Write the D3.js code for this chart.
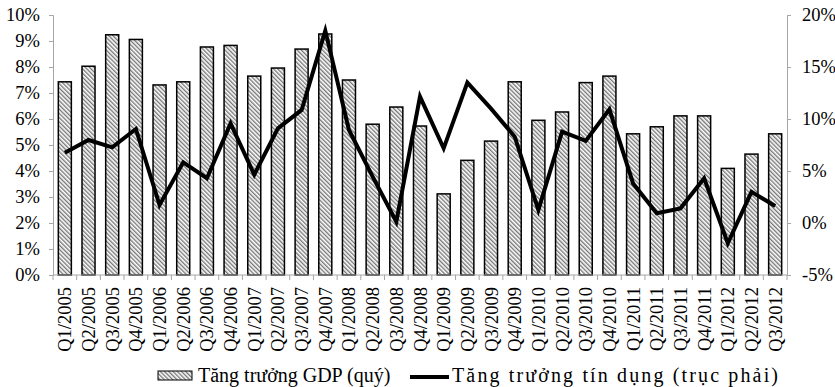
<!DOCTYPE html>
<html>
<head>
<meta charset="utf-8">
<script src="https://cdn.jsdelivr.net/npm/d3@7"></script>
<style>
  html, body { margin: 0; padding: 0; background: #fff; }
  svg { display: block; }
  text { font-family: "Liberation Serif", "Times New Roman", serif; fill: #000; }
</style>
</head>
<body>
<svg id="chart" width="835" height="387"></svg>
<script>
// Quarterly labels
const quarters = [
  "Q1/2005","Q2/2005","Q3/2005","Q4/2005",
  "Q1/2006","Q2/2006","Q3/2006","Q4/2006",
  "Q1/2007","Q2/2007","Q3/2007","Q4/2007",
  "Q1/2008","Q2/2008","Q3/2008","Q4/2008",
  "Q1/2009","Q2/2009","Q3/2009","Q4/2009",
  "Q1/2010","Q2/2010","Q3/2010","Q4/2010",
  "Q1/2011","Q2/2011","Q3/2011","Q4/2011",
  "Q1/2012","Q2/2012","Q3/2012"
];

// GDP growth by quarter (%), left axis
const gdpGrowth = [
  7.43, 8.03, 9.24, 9.06,
  7.31, 7.43, 8.77, 8.83,
  7.65, 7.96, 8.69, 9.27,
  7.50, 5.80, 6.46, 5.73,
  3.12, 4.41, 5.15, 7.43,
  5.95, 6.27, 7.40, 7.65,
  5.43, 5.70, 6.12, 6.12,
  4.10, 4.65, 5.43
];

// Credit growth by quarter (%), right axis
const creditGrowth = [
  6.76, 7.98, 7.28, 9.04,
  1.73, 5.83, 4.30, 9.58,
  4.65, 9.10, 10.87, 18.5,
  8.94, 4.45, 0.13, 12.15,
  7.18, 13.5, 11.0, 8.3,
  1.25, 8.78, 7.90, 10.93,
  3.80, 0.93, 1.41, 4.30,
  -1.95, 3.00, 1.63
];

const leftTicks = [0, 1, 2, 3, 4, 5, 6, 7, 8, 9, 10];
const rightTicks = [-5, 0, 5, 10, 15, 20];

const legendLabels = ["Tăng trưởng GDP (quý)", "Tăng trưởng tín dụng (trục phải)"];

const fontSize = "18.5px";
const legendFontSize = "20px";
const svg = d3.select("#chart");
const plot = { left: 53, right: 787, top: 15, bottom: 275 };
const axisColor = "#a6a6a6";

// diagonal hatch for the GDP bars
const defs = svg.append("defs");
const pat = defs.append("pattern")
  .attr("id", "hatch")
  .attr("patternUnits", "userSpaceOnUse")
  .attr("width", 3)
  .attr("height", 3)
  .attr("patternTransform", "rotate(-45)");
pat.append("rect").attr("width", 3).attr("height", 3).attr("fill", "#fff");
pat.append("line")
  .attr("x1", 0.75).attr("y1", 0).attr("x2", 0.75).attr("y2", 3)
  .attr("stroke", "#555").attr("stroke-width", 1.1);

const x = d3.scaleBand()
  .domain(quarters)
  .range([plot.left, plot.right])
  .paddingInner(0.45)
  .paddingOuter(0.225);

const yLeft = d3.scaleLinear().domain([0, 10]).range([plot.bottom, plot.top]);
const yRight = d3.scaleLinear().domain([-5, 20]).range([plot.bottom, plot.top]);

// Bars
svg.append("g")
  .selectAll("rect")
  .data(quarters)
  .join("rect")
  .attr("x", q => x(q))
  .attr("width", x.bandwidth())
  .attr("y", (q, i) => yLeft(gdpGrowth[i]))
  .attr("height", (q, i) => yLeft(0) - yLeft(gdpGrowth[i]))
  .attr("fill", "url(#hatch)")
  .attr("stroke", "#000")
  .attr("stroke-width", 1.5);

// Left axis
const gLeft = svg.append("g")
  .attr("transform", `translate(${plot.left},0)`)
  .call(d3.axisLeft(yLeft).tickValues(leftTicks).tickFormat(d => d + "%").tickSize(4).tickPadding(9));
// Right axis
const gRight = svg.append("g")
  .attr("transform", `translate(${plot.right},0)`)
  .call(d3.axisRight(yRight).tickValues(rightTicks).tickFormat(d => d + "%").tickSize(4).tickPadding(11));

[gLeft, gRight].forEach(g => {
  g.select(".domain").attr("stroke", axisColor).attr("stroke-width", 1);
  g.selectAll(".tick line").attr("stroke", axisColor);
  g.selectAll(".tick text")
    .style("font-family", '"Liberation Serif", "Times New Roman", serif')
    .style("font-size", fontSize)
    .attr("fill", "#000");
});

// Bottom axis: baseline, separators between quarters, rotated labels
const gBottom = svg.append("g");
gBottom.append("line")
  .attr("x1", plot.left).attr("x2", plot.right)
  .attr("y1", plot.bottom).attr("y2", plot.bottom)
  .attr("stroke", axisColor);
const step = x.step();
gBottom.selectAll("line.sep")
  .data(d3.range(quarters.length + 1))
  .join("line")
  .attr("class", "sep")
  .attr("x1", i => plot.left + i * step)
  .attr("x2", i => plot.left + i * step)
  .attr("y1", plot.bottom)
  .attr("y2", plot.bottom + 5)
  .attr("stroke", axisColor);
gBottom.selectAll("text")
  .data(quarters)
  .join("text")
  .attr("transform", q => `translate(${x(q) + x.bandwidth() / 2 + 6.5},287) rotate(-90)`)
  .attr("text-anchor", "end")
  .style("font-size", fontSize)
  .text(q => q);

// Credit growth line
const line = d3.line()
  .x((v, i) => x(quarters[i]) + x.bandwidth() / 2)
  .y(v => yRight(v));
svg.append("path")
  .datum(creditGrowth)
  .attr("d", line)
  .attr("fill", "none")
  .attr("stroke", "#000")
  .attr("stroke-width", 4)
  .attr("stroke-linejoin", "miter")
  .attr("stroke-miterlimit", 10);

// Legend
const lg = svg.append("g");
lg.append("rect")
  .attr("x", 158).attr("y", 371).attr("width", 34).attr("height", 9)
  .attr("fill", "url(#hatch)").attr("stroke", "#000").attr("stroke-width", 1);
lg.append("text")
  .attr("x", 198).attr("y", 382)
  .style("font-size", legendFontSize)
  .text(legendLabels[0]);
lg.append("line")
  .attr("x1", 410).attr("x2", 449).attr("y1", 377).attr("y2", 377)
  .attr("stroke", "#000").attr("stroke-width", 4);
lg.append("text")
  .attr("x", 452).attr("y", 382)
  .attr("textLength", 326)
  .attr("lengthAdjust", "spacing")
  .style("font-size", legendFontSize)
  .text(legendLabels[1]);
</script>
</body>
</html>
